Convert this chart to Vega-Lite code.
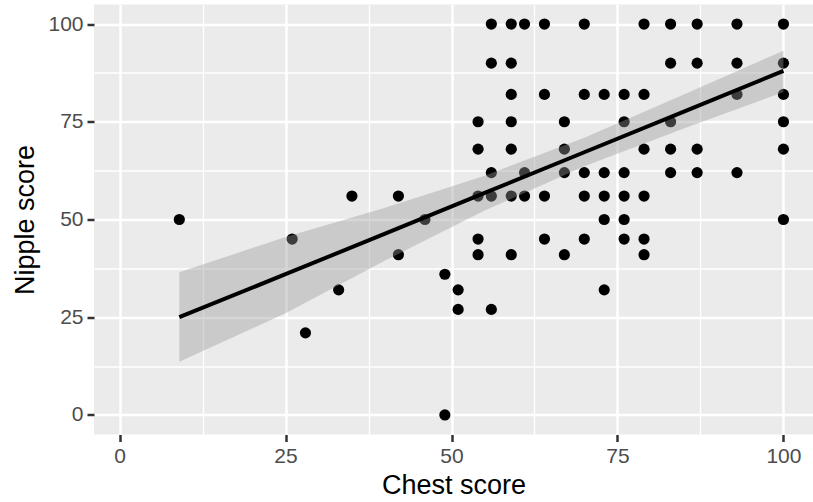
{
  "$schema": "https://vega.github.io/schema/vega-lite/v6.json",
  "width": 719,
  "height": 430,
  "autosize": {"type": "none"},
  "padding": {"left": 94, "top": 4.5, "right": 0, "bottom": 67.5},
  "background": "white",
  "config": {
    "view": {"fill": "#EBEBEB", "stroke": null},
    "font": "Liberation Sans",
    "axis": {
      "labelColor": "#4D4D4D",
      "labelFontSize": 21,
      "labelFont": "Liberation Sans",
      "titleFont": "Liberation Sans",
      "titleFontSize": 27,
      "titleFontWeight": "normal",
      "titleColor": "black",
      "tickColor": "#333333",
      "tickWidth": 2.5,
      "tickSize": 7,
      "domain": false,
      "gridColor": "white",
      "gridWidth": 2.5,
      "labelPadding": 4
    }
  },
  "datasets": {
    "points": [
      {"chest": 9, "nipple": 50},
      {"chest": 26, "nipple": 45},
      {"chest": 28, "nipple": 21},
      {"chest": 33, "nipple": 32},
      {"chest": 35, "nipple": 56},
      {"chest": 42, "nipple": 56},
      {"chest": 42, "nipple": 41},
      {"chest": 46, "nipple": 50},
      {"chest": 49, "nipple": 36},
      {"chest": 49, "nipple": 0},
      {"chest": 51, "nipple": 32},
      {"chest": 51, "nipple": 27},
      {"chest": 54, "nipple": 75},
      {"chest": 54, "nipple": 68},
      {"chest": 54, "nipple": 56},
      {"chest": 54, "nipple": 45},
      {"chest": 54, "nipple": 41},
      {"chest": 56, "nipple": 100},
      {"chest": 56, "nipple": 90},
      {"chest": 56, "nipple": 62},
      {"chest": 56, "nipple": 56},
      {"chest": 56, "nipple": 27},
      {"chest": 59, "nipple": 100},
      {"chest": 59, "nipple": 90},
      {"chest": 59, "nipple": 82},
      {"chest": 59, "nipple": 75},
      {"chest": 59, "nipple": 68},
      {"chest": 59, "nipple": 56},
      {"chest": 59, "nipple": 41},
      {"chest": 61, "nipple": 100},
      {"chest": 61, "nipple": 62},
      {"chest": 61, "nipple": 56},
      {"chest": 64, "nipple": 100},
      {"chest": 64, "nipple": 82},
      {"chest": 64, "nipple": 56},
      {"chest": 64, "nipple": 45},
      {"chest": 67, "nipple": 75},
      {"chest": 67, "nipple": 68},
      {"chest": 67, "nipple": 62},
      {"chest": 67, "nipple": 41},
      {"chest": 70, "nipple": 100},
      {"chest": 70, "nipple": 82},
      {"chest": 70, "nipple": 62},
      {"chest": 70, "nipple": 56},
      {"chest": 70, "nipple": 45},
      {"chest": 73, "nipple": 82},
      {"chest": 73, "nipple": 62},
      {"chest": 73, "nipple": 56},
      {"chest": 73, "nipple": 50},
      {"chest": 73, "nipple": 32},
      {"chest": 76, "nipple": 82},
      {"chest": 76, "nipple": 75},
      {"chest": 76, "nipple": 62},
      {"chest": 76, "nipple": 56},
      {"chest": 76, "nipple": 50},
      {"chest": 76, "nipple": 45},
      {"chest": 79, "nipple": 100},
      {"chest": 79, "nipple": 82},
      {"chest": 79, "nipple": 68},
      {"chest": 79, "nipple": 56},
      {"chest": 79, "nipple": 45},
      {"chest": 79, "nipple": 41},
      {"chest": 83, "nipple": 100},
      {"chest": 83, "nipple": 90},
      {"chest": 83, "nipple": 75},
      {"chest": 83, "nipple": 68},
      {"chest": 83, "nipple": 62},
      {"chest": 87, "nipple": 100},
      {"chest": 87, "nipple": 90},
      {"chest": 87, "nipple": 68},
      {"chest": 87, "nipple": 62},
      {"chest": 93, "nipple": 100},
      {"chest": 93, "nipple": 90},
      {"chest": 93, "nipple": 82},
      {"chest": 93, "nipple": 62},
      {"chest": 100, "nipple": 100},
      {"chest": 100, "nipple": 90},
      {"chest": 100, "nipple": 82},
      {"chest": 100, "nipple": 75},
      {"chest": 100, "nipple": 68},
      {"chest": 100, "nipple": 50}
    ],
    "band": [
      {"chest": 9, "fit": 25.0, "lower": 13.6, "upper": 36.5},
      {"chest": 25, "fit": 36.0, "lower": 26.0, "upper": 45.5},
      {"chest": 40, "fit": 46.4, "lower": 39.5, "upper": 53.0},
      {"chest": 55, "fit": 56.8, "lower": 52.3, "upper": 61.2},
      {"chest": 70, "fit": 67.2, "lower": 63.6, "upper": 70.9},
      {"chest": 85, "fit": 77.6, "lower": 73.3, "upper": 82.0},
      {"chest": 100, "fit": 88.0, "lower": 82.6, "upper": 93.2}
    ]
  },
  "resolve": {"axis": {"x": "independent", "y": "independent"}},
  "layer": [
    {
      "data": {"name": "points"},
      "mark": {"type": "circle", "size": 125, "color": "black", "opacity": 1},
      "encoding": {
        "x": {
          "field": "chest", "type": "quantitative",
          "scale": {"domain": [-3.85, 104.45], "nice": false, "zero": false},
          "axis": {"orient": "bottom", "values": [12.5, 37.5, 62.5, 87.5], "grid": true, "gridWidth": 1.3, "labels": false, "ticks": false, "title": null}
        },
        "y": {
          "field": "nipple", "type": "quantitative",
          "scale": {"domain": [-5, 105], "nice": false, "zero": false},
          "axis": {"orient": "left", "values": [12.5, 37.5, 62.5, 87.5], "grid": true, "gridWidth": 1.3, "labels": false, "ticks": false, "title": null}
        }
      }
    },
    {
      "data": {"name": "band"},
      "mark": {"type": "area", "color": "#999999", "opacity": 0.4},
      "encoding": {
        "x": {
          "field": "chest", "type": "quantitative",
          "axis": {"orient": "bottom", "values": [0, 25, 50, 75, 100], "grid": true, "title": "Chest score", "titlePadding": 6}
        },
        "y": {
          "field": "lower", "type": "quantitative",
          "axis": {"orient": "left", "values": [0, 25, 50, 75, 100], "grid": true, "title": "Nipple score", "titlePadding": 8}
        },
        "y2": {"field": "upper"}
      }
    },
    {
      "data": {"name": "band"},
      "mark": {"type": "line", "color": "black", "strokeWidth": 4},
      "encoding": {
        "x": {"field": "chest", "type": "quantitative", "axis": null},
        "y": {"field": "fit", "type": "quantitative", "axis": null}
      }
    }
  ]
}
